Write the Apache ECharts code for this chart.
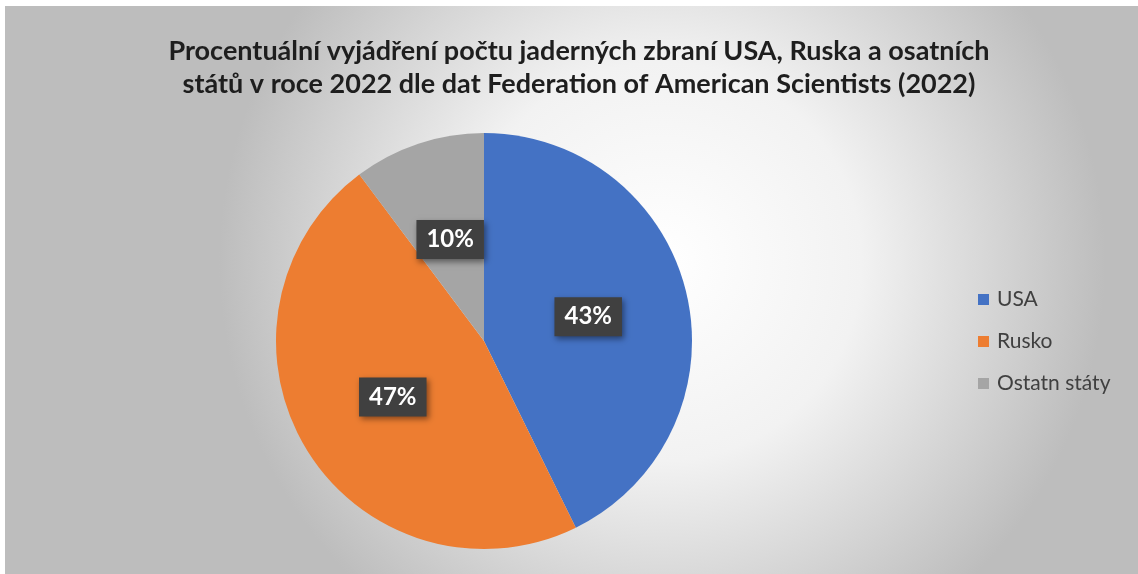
<!DOCTYPE html>
<html><head><meta charset="utf-8">
<script src="https://cdn.jsdelivr.net/npm/echarts@6/dist/echarts.min.js"></script>
<style>html,body{margin:0;padding:0;background:#fff}#c{width:1138px;height:574px}</style>
</head><body><div id="c"></div>
<script>
var titleText = 'Procentuální vyjádření počtu jaderných zbraní USA, Ruska a osatních\nstátů v roce 2022 dle dat Federation of American Scientists (2022)';
var categories = ['USA', 'Rusko', 'Ostatn státy'];
var values = [5428, 5977, 1300];
var colors = ['#4472C4', '#ED7D31', '#A5A5A5'];

var chart = echarts.init(document.getElementById('c'));
var FONT = 'Lato, "Open Sans", sans-serif';
chart.setOption({
  animation: false,
  color: colors,
  graphic: [{
    type: 'rect', z: -10, silent: true,
    shape: {x: 5, y: 6, width: 1133, height: 568},
    style: {fill: new echarts.graphic.RadialGradient(0.58, 0.45, 0.78, [
      {offset: 0, color: '#ffffff'}, {offset: 0.45, color: '#f2f2f2'}, {offset: 1, color: '#bdbdbd'}])}
  }],
  title: {
    text: titleText, left: 574, top: 30, textAlign: 'center',
    textStyle: {fontFamily: FONT, fontWeight: 'bold', fontSize: 27, lineHeight: 33, color: '#1e1e1e'}
  },
  legend: {
    orient: 'vertical', left: 973, top: 284, itemGap: 21,
    icon: 'rect', itemWidth: 11, itemHeight: 11,
    textStyle: {fontFamily: FONT, fontSize: 21, color: '#404040', padding: [0, 0, 0, 3]},
    data: categories
  },
  series: [{
    type: 'pie', center: [484, 341], radius: 208, startAngle: 90, clockwise: true,
    data: categories.map(function (c, i) { return {name: c, value: values[i]}; }),
    itemStyle: {borderWidth: 0},
    label: {
      position: 'inside',
      formatter: function (p) { return Math.round(p.percent) + '%'; },
      fontFamily: FONT, fontWeight: 'bold', fontSize: 24, color: '#fff',
      backgroundColor: '#404040', padding: [8, 10, 7, 10],
      shadowColor: 'rgba(0,0,0,0.45)', shadowBlur: 6, shadowOffsetX: 2, shadowOffsetY: 3
    },
    labelLine: {show: false},
    emphasis: {disabled: true}
  }]
});
</script></body></html>
